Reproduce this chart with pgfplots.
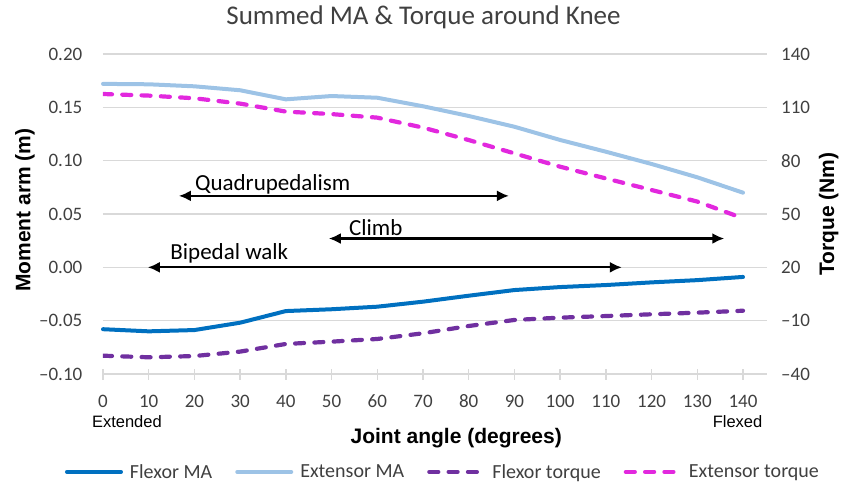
\documentclass[border=0pt]{standalone}
\usepackage{fontspec}
\setmainfont{Carlito}
\newfontfamily\arialf{Liberation Sans}
\usepackage{pgfplots}
\usepackage{pgfplotstable}
\pgfplotsset{compat=1.18}
\usetikzlibrary{arrows.meta}

\definecolor{flexMA}{RGB}{0,112,192}
\definecolor{extMA}{RGB}{157,195,230}
\definecolor{flexT}{RGB}{112,48,160}
\definecolor{extT}{RGB}{226,40,222}
\definecolor{gridc}{RGB}{217,217,217}
\definecolor{txtc}{RGB}{64,64,64}

% moment arms (m), left axis
\pgfplotstableread{
x    fma      ema
0    -0.058   0.172
10   -0.060   0.1716
20   -0.0588  0.1697
30   -0.0519  0.166
40   -0.041   0.1575
50   -0.0393  0.1606
60   -0.0369  0.159
70   -0.0322  0.151
80   -0.0266  0.1419
90   -0.0213  0.1318
100  -0.0185  0.1194
110  -0.0166  0.1084
120  -0.0141  0.0969
130  -0.012   0.0844
140  -0.009   0.070
}\matable

% torques (Nm), right axis
\pgfplotstableread{
x    ft      et
0    -29.7   117.5
10   -30.6   116.6
20   -29.9   115.1
30   -27.4   112.1
40   -23.1   107.6
50   -21.8   106.2
60   -20.3   104.2
70   -17.1   98.6
80   -13.0   91.6
90   -9.6    84.1
100  -8.3    76.6
110  -7.4    70.0
120  -6.4    63.5
130  -5.5    57.0
140  -4.4    47.6
}\ttable

\tikzset{
  dashline/.style={line width=4.2pt, line cap=round, dash pattern=on 9pt off 10.3pt},
  solidline/.style={line width=4pt, line cap=round, line join=round},
  span/.style={line width=2.2pt, {Latex[length=12pt,width=11pt]}-{Latex[length=12pt,width=11pt]}},
  note/.style={anchor=base west, inner sep=0pt, font=\fontsize{23}{26}\selectfont},
}

\pgfplotsset{
  base/.style={
    scale only axis, width=664pt, height=320pt,
    at={(0,0)}, anchor=south west,
    xmin=0, xmax=145.25,
    axis line style={draw=none},
    ticklabel style={font=\fontsize{19}{22}\selectfont, text=txtc},
    label style={font=\arialf\bfseries\fontsize{21}{24}\selectfont, text=black},
  },
}

\begin{document}
\begin{tikzpicture}
\path[use as bounding box] (-103pt,-109pt) rectangle (744pt,374pt);

\begin{axis}[base,
  ymin=-0.1, ymax=0.2,
  xtick={0,10,...,140},
  xticklabels={0,10,20,30,40,50,60,70,80,90,100,110,120,130,140},
  ytick={-0.1,-0.05,0,0.05,0.1,0.15,0.2},
  yticklabels={–0.10,–0.05,0.00,0.05,0.10,0.15,0.20},
  xtick pos=lower, ytick pos=left,
  tick align=center, major tick length=11pt,
  xtick style={gridc, line width=1.3pt},
  ytick style={draw=none},
  ymajorgrids, grid style={gridc, line width=1.3pt},
  yticklabel style={anchor=east, inner sep=0pt, xshift=-15pt},
  xticklabel style={anchor=center, inner sep=0pt},
  xticklabel shift=22pt,
  xlabel={Joint angle (degrees)},
  xlabel style={at={(axis description cs:0.532,-0.20)}, anchor=center},
  ylabel={Moment arm (m)},
  ylabel style={at={(axis description cs:-0.1175,0.512)}, anchor=center},
  title={Summed MA \& Torque around Knee},
  title style={at={(axis description cs:0.4827,1.072)}, anchor=base,
    font=\fontsize{27}{30}\selectfont, text=txtc},
  clip=false,
]
\addplot[extMA, solidline] table[x=x, y=ema] {\matable};
\addplot[flexMA, solidline] table[x=x, y=fma] {\matable};

\draw[span] (axis cs:16.6,0.067) -- (axis cs:88.8,0.067);
\draw[span] (axis cs:49.4,0.027) -- (axis cs:135.9,0.027);
\draw[span] (axis cs:9.8,0.0) -- (axis cs:113.5,0.0);
\node[note] at (axis cs:20.1,0.0725) {Quadrupedalism};
\node[note] at (axis cs:53.8,0.0294) {Climb};
\node[note] at (axis cs:14.7,0.0069) {Bipedal walk};

\node[font=\arialf\fontsize{16.5}{19}\selectfont, inner sep=0pt]
  at (axis description cs:0.036,-0.148) {Extended};
\node[font=\arialf\fontsize{16.5}{19}\selectfont, inner sep=0pt]
  at (axis description cs:0.9556,-0.148) {Flexed};
\end{axis}

\begin{axis}[base,
  ymin=-40, ymax=140,
  axis x line=none,
  ytick={-40,-10,20,50,80,110,140},
  yticklabels={–40,–10,20,50,80,110,140},
  ytick pos=right, yticklabel pos=right,
  ytick style={draw=none},
  yticklabel style={anchor=west, inner sep=0pt, xshift=14pt},
  ylabel={Torque (Nm)},
  ylabel style={at={(axis description cs:1.093,0.5)}, anchor=center, rotate=0},
  legend columns=4,
  legend style={at={(axis description cs:0.512,-0.306)}, anchor=center,
    draw=none, fill=none, font=\fontsize{20}{23}\selectfont, text=txtc,
    /tikz/every even column/.append style={column sep=21pt},
    /tikz/every odd column/.append style={column sep=5pt}},
  legend image code/.code={\draw[#1] (2pt,0pt) -- (56pt,0pt);},
]
\addlegendimage{flexMA, solidline}
\addlegendentry{Flexor MA}
\addlegendimage{extMA, solidline}
\addlegendentry{Extensor MA}
\addplot[flexT, dashline] table[x=x, y=ft] {\ttable};
\addlegendentry{Flexor torque}
\addplot[extT, dashline] table[x=x, y=et] {\ttable};
\addlegendentry{Extensor torque}
\end{axis}
\end{tikzpicture}
\end{document}
